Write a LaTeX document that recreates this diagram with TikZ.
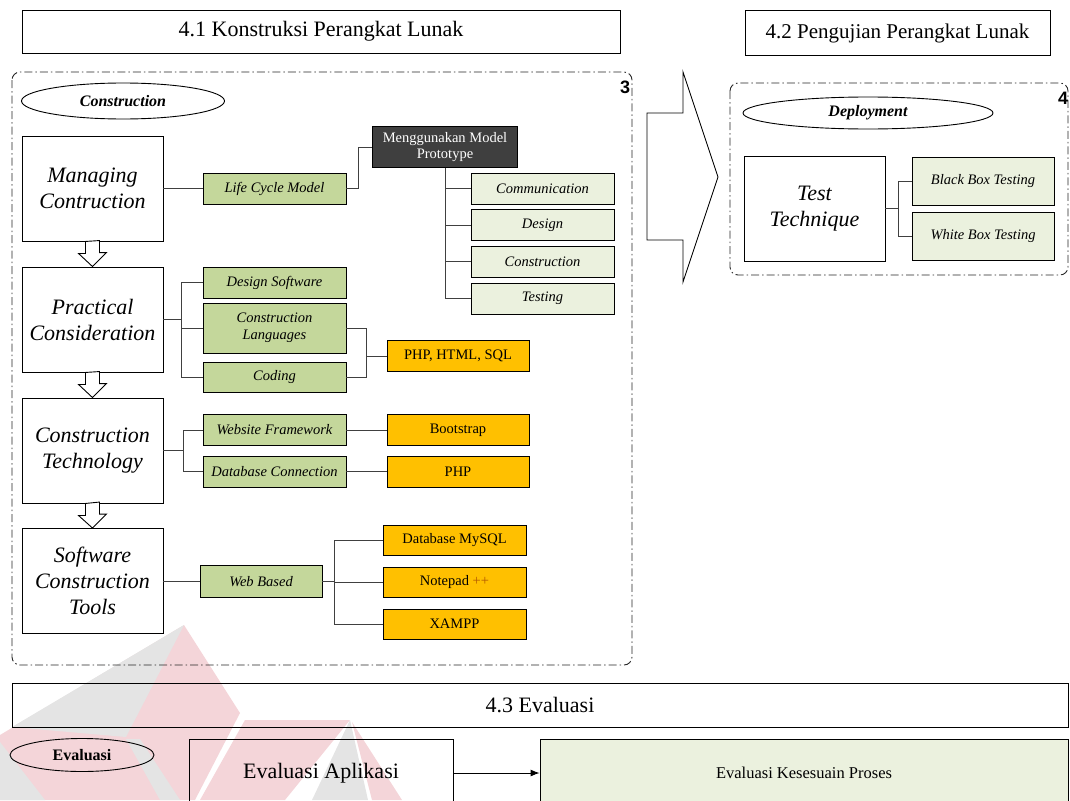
\documentclass[tikz,border=0pt]{standalone}
\usepackage{fontspec}
\setmainfont{Liberation Serif}
\newfontfamily\numfont{Liberation Sans}
\usetikzlibrary{shapes.geometric,arrows.meta}

\definecolor{olivebox}{HTML}{C4D79B}
\definecolor{palebox}{HTML}{EBF1DE}
\definecolor{amberbox}{HTML}{FFC000}
\definecolor{darkbox}{HTML}{3F3F3F}
\definecolor{wmpink}{HTML}{F4D5D9}
\definecolor{wmgray}{HTML}{E4E4E4}

\tikzset{
  stage/.style={draw,minimum width=141pt,minimum height=105pt,align=center,
    font=\fontsize{22}{26}\selectfont\itshape},
  head/.style={draw,align=center,font=\fontsize{22}{24}\selectfont},
  tag/.style={draw,ellipse,inner sep=0pt,font=\fontsize{16}{18}\selectfont\bfseries\itshape},
  olive/.style={draw,fill=olivebox,minimum width=143pt,minimum height=31pt,align=center,
    font=\fontsize{14.5}{17}\selectfont\itshape},
  pale/.style={olive,fill=palebox},
  amber/.style={draw,fill=amberbox,minimum width=142pt,minimum height=31pt,
    font=\fontsize{14.5}{17}\selectfont},
  frame/.style={draw=black!85,rounded corners=8pt,dash pattern=on 8pt off 3pt on 1.5pt off 3pt},
  link/.style={draw=black!75,line width=1pt},
}

\begin{document}
\begin{tikzpicture}[x=1pt,y=-1pt,line width=0.9pt]
  \useasboundingbox (0,0) rectangle (1070,800);
  \clip (0,0) rectangle (1070,800);

  % faint logo in the background
  \fill[wmpink] (184,625) -- (240,713) -- (195,800) -- (0,800) -- (0,735) -- cycle;
  \fill[wmgray] (184,625) -- (12,727) -- (126,737) -- cycle;
  \fill[wmgray] (126,739) -- (140,739) -- (180,800) -- (160,800) -- cycle;
  \fill[wmgray] (0,742) -- (45,800) -- (0,800) -- cycle;
  \fill[wmpink] (245,720) -- (350,720) -- (285,800) -- (200,800) -- cycle;
  \fill[wmgray] (350,720) -- (368,800) -- (312,800) -- cycle;
  \fill[wmpink] (352,722) -- (402,800) -- (372,800) -- cycle;

  \node (t41) at (321,31.5) [head,minimum width=598pt,minimum height=43pt]{4.1 Konstruksi Perangkat Lunak};
  \node (t42) at (897.5,33) [head,minimum width=305pt,minimum height=45pt,font=\fontsize{21}{24}\selectfont]{4.2 Pengujian Perangkat Lunak};

  % construction
  \draw[frame] (12,72) rectangle (632,665);
  \node (n3) at (625,87) {\numfont\bfseries\fontsize{18}{18}\selectfont 3};
  \node (cons) at (123,101) [tag,minimum width=203pt,minimum height=36pt]{Construction};

  \node (mc) at (92.5,188.5) [stage]{Managing\\Contruction};
  \node (pc) at (92.5,319.5) [stage]{Practical\\Consideration};
  \node (ct) at (92.5,450.5) [stage]{Construction\\Technology};
  \node (sct) at (92.5,581) [stage]{Software\\Construction\\Tools};

  \foreach \a/\b in {mc/pc,pc/ct,ct/sct}
    \draw[fill=white] (\a.south) ++(-7,0) -- ++(0,12) -- ++(-7,0) -- (\b.north)
      -- ++(14,-14) -- ++(-7,0) -- ++(0,-12) -- cycle;

  \node (lcm) at (274.5,188.5) [olive]{Life Cycle Model};
  \node (proto) at (445,147) [draw,fill=darkbox,text=white,minimum width=145pt,minimum height=41pt,
    align=center,font=\fontsize{14.5}{16}\selectfont]{Menggunakan Model\\Prototype};
  \node (comm) at (542.5,188.5) [pale]{Communication};
  \node (desg) at (542.5,225) [pale]{Design};
  \node (cnst) at (542.5,261.5) [pale]{Construction};
  \node (test) at (542.5,298.5) [pale]{Testing};

  \node (ds) at (274.5,282.5) [olive]{Design Software};
  \node (cl) at (274.5,328) [olive,minimum height=50pt]{Construction\\Languages};
  \node (cod) at (274.5,377) [olive,minimum height=30pt]{Coding};
  \node (php1) at (458,356) [amber]{PHP, HTML, SQL};

  \node (wf) at (274.5,430) [olive]{Website Framework};
  \node (dc) at (274.5,471.5) [olive]{Database Connection};
  \node (boot) at (458,430) [amber]{Bootstrap};
  \node (php2) at (458,471.5) [amber]{PHP};

  \node (wb) at (261,581.5) [olive,minimum width=122pt,minimum height=32pt]{Web Based};
  \node (mysql) at (454.5,540.5) [amber,minimum width=143pt,minimum height=30pt]{Database MySQL};
  \node (npp) at (454.5,582) [amber,minimum width=143pt,minimum height=30pt]{Notepad {\color{orange!70!black}++}};
  \node (xam) at (454.5,624) [amber,minimum width=143pt,minimum height=30pt]{XAMPP};

  \draw[link] (mc.east) -- (mc.east -| lcm.west);
  \draw[link] (lcm.east) -- ++(12,0) |- (proto.west);
  \foreach \n in {comm,desg,cnst,test}
    \draw[link] (proto.south) |- (\n.west);

  \draw[link] (pc.east) -- ++(18,0) coordinate (pcj);
  \foreach \n in {ds,cl,cod}
    \draw[link] (pcj) |- (\n.west);
  \draw[link] (cl.east) -- ++(20,0) coordinate (clj) |- (cod.east);
  \draw[link] (clj |- php1.west) -- (php1.west);

  \draw[link] (ct.east) -- ++(20,0) coordinate (ctj);
  \foreach \n in {wf,dc}
    \draw[link] (ctj) |- (\n.west);
  \draw[link] (wf) -- (boot);
  \draw[link] (dc) -- (php2);

  \draw[link] (sct.east |- wb.west) -- (wb.west);
  \draw[link] (wb.east) -- ++(12,0) coordinate (wbj);
  \foreach \n in {mysql,npp,xam}
    \draw[link] (wbj) |- (\n.west);

  % big arrow to testing
  \draw[fill=white] (647,113) -- (683,113) -- (683,72) -- (718,177) -- (683,282) -- (683,240) -- (647,240) -- cycle;

  % deployment
  \draw[frame] (730,83) rectangle (1068,275);
  \node (n4) at (1063,98) {\numfont\bfseries\fontsize{18}{18}\selectfont 4};
  \node (dep) at (868,113) [tag,minimum width=250pt,minimum height=32pt]{Deployment};
  \node (tt) at (814.5,208.5) [stage]{Test\\Technique};
  \node (bbt) at (983,181) [pale,minimum width=142pt,minimum height=48pt]{Black Box Testing};
  \node (wbt) at (983,236) [pale,minimum width=142pt,minimum height=48pt]{White Box Testing};
  \draw[link] (tt.east) -- ++(13,0) coordinate (ttj);
  \foreach \n in {bbt,wbt}
    \draw[link] (ttj) |- (\n.west);

  % evaluasi
  \node (t43) at (540,705) [head,minimum width=1056pt,minimum height=44pt]{4.3 Evaluasi};
  \node (ev) at (82,755) [draw,ellipse,inner sep=0pt,minimum width=144pt,minimum height=33pt,
    font=\fontsize{16}{18}\selectfont\bfseries]{Evaluasi};
  \node (ea) at (321,773) [draw,minimum width=264pt,minimum height=68pt,font=\fontsize{22}{24}\selectfont]{Evaluasi Aplikasi};
  \node (ekp) at (804,773) [draw,fill=palebox,minimum width=528pt,minimum height=68pt,
    font=\fontsize{16.5}{18}\selectfont]{Evaluasi Kesesuain Proses};
  \draw[-{Latex[length=9pt,width=7pt]}] (ea.east) -- (ekp.west);

\end{tikzpicture}
\end{document}
